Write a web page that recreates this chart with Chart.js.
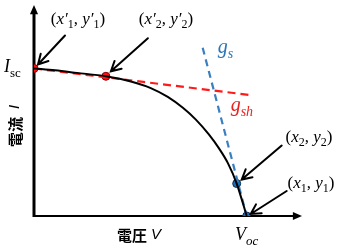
<!DOCTYPE html>
<html>
<head>
<meta charset="utf-8">
<script src="https://cdn.jsdelivr.net/npm/chart.js@4"></script>
<style>
  html, body { margin: 0; padding: 0; background: #fff; }
  #wrap { width: 340px; height: 251px; position: relative; }
</style>
</head>
<body>
<div id="wrap"><canvas id="iv"></canvas></div>
<script>
  // normalised I-V curve (V / Voc, I / Isc)
  const voltage = [0, 0.099, 0.202, 0.338, 0.451, 0.549, 0.629, 0.7, 0.761, 0.822, 0.869, 0.911, 0.953, 1.0];
  const current = [1.0, 0.987, 0.97, 0.947, 0.913, 0.867, 0.807, 0.733, 0.653, 0.553, 0.46, 0.36, 0.22, 0];

  // shunt conductance line g_sh and series conductance line g_s
  const gshX = [0, 1.014];
  const gshY = [1.0, 0.82];
  const gsX = [0.793, 1.0];
  const gsY = [1.14, 0];

  // marked points
  const redX = [0, 0.338];
  const redY = [1.0, 0.947];
  const blueX = [0.953, 1.0];
  const blueY = [0.22, 0];

  const xMax = 1.26;
  const yMax = 1.43;

  const pts = (xs, ys) => xs.map((x, i) => ({ x: x, y: ys[i] }));

  const SERIF = "'Liberation Serif', 'DejaVu Serif', serif";
  const CJK = "'Noto Sans CJK JP', sans-serif";

  // draws a run of text pieces: {t, it, sub, color}
  function rich(ctx, parts, x, y, size, align) {
    const fontOf = (p) => (p.it ? 'italic ' : '') + (p.sub ? Math.round(size * 0.7) : size) + 'px ' + SERIF;
    let w = 0;
    parts.forEach((p) => { ctx.font = fontOf(p); w += ctx.measureText(p.t).width; });
    let cx = align === 'center' ? x - w / 2 : x;
    ctx.textBaseline = 'alphabetic';
    ctx.textAlign = 'left';
    parts.forEach((p) => {
      ctx.font = fontOf(p);
      ctx.fillStyle = p.color || '#000';
      ctx.fillText(p.t, cx, y + (p.sub ? size * 0.25 : 0));
      cx += ctx.measureText(p.t).width;
    });
  }

  function arrow(ctx, x0, y0, x1, y1, head, width) {
    const a = Math.atan2(y1 - y0, x1 - x0);
    ctx.save();
    ctx.strokeStyle = '#000';
    ctx.fillStyle = '#000';
    ctx.lineWidth = width;
    ctx.beginPath();
    ctx.moveTo(x0, y0);
    ctx.lineTo(x1 - Math.cos(a) * head * 0.8, y1 - Math.sin(a) * head * 0.8);
    ctx.stroke();
    ctx.beginPath();
    ctx.moveTo(x1, y1);
    ctx.lineTo(x1 - head * Math.cos(a - 0.42), y1 - head * Math.sin(a - 0.42));
    ctx.lineTo(x1 - head * Math.cos(a + 0.42), y1 - head * Math.sin(a + 0.42));
    ctx.closePath();
    ctx.fill();
    ctx.restore();
  }

  // open "V" style arrow head used for the call-outs
  function callout(ctx, x0, y0, x1, y1) {
    const a = Math.atan2(y1 - y0, x1 - x0);
    const h = 11;
    ctx.save();
    ctx.strokeStyle = '#000';
    ctx.lineWidth = 2;
    ctx.lineCap = 'round';
    ctx.beginPath();
    ctx.moveTo(x0, y0);
    ctx.lineTo(x1, y1);
    ctx.moveTo(x1 - h * Math.cos(a - 0.5), y1 - h * Math.sin(a - 0.5));
    ctx.lineTo(x1, y1);
    ctx.lineTo(x1 - h * Math.cos(a + 0.5), y1 - h * Math.sin(a + 0.5));
    ctx.stroke();
    ctx.restore();
  }

  const decor = {
    id: 'decor',
    beforeDatasetsDraw(chart) {
      const { ctx, chartArea: ca } = chart;
      // axes
      arrow(ctx, ca.left, ca.bottom + 1, ca.left, ca.top, 10, 3);
      arrow(ctx, ca.left, ca.bottom, ca.right, ca.bottom, 10, 2);
    },
    afterDatasetsDraw(chart) {
      const { ctx, scales } = chart;
      const sx = scales.x, sy = scales.y;
      const px = (v) => sx.getPixelForValue(v);
      const py = (v) => sy.getPixelForValue(v);

      // call-outs
      const r1 = { x: px(redX[0]), y: py(redY[0]) };
      const r2 = { x: px(redX[1]), y: py(redY[1]) };
      const b2 = { x: px(blueX[0]), y: py(blueY[0]) };
      const b1 = { x: px(blueX[1]), y: py(blueY[1]) };
      callout(ctx, r1.x + 31, r1.y - 33, r1.x + 4, r1.y - 4);
      callout(ctx, r2.x + 42, r2.y - 38, r2.x + 5, r2.y - 5);
      callout(ctx, b2.x + 45, b2.y - 38, b2.x + 5, b2.y - 4);
      callout(ctx, b1.x + 40, b1.y - 25, b1.x + 4, b1.y - 2);

      rich(ctx, [{ t: '(' }, { t: 'x′', it: true }, { t: '1', sub: true }, { t: ', ' }, { t: 'y′', it: true }, { t: '1', sub: true }, { t: ')' }], r1.x + 44, 24, 17, 'center');
      rich(ctx, [{ t: '(' }, { t: 'x′', it: true }, { t: '2', sub: true }, { t: ', ' }, { t: 'y′', it: true }, { t: '2', sub: true }, { t: ')' }], r2.x + 60, 24, 17, 'center');
      rich(ctx, [{ t: '(' }, { t: 'x', it: true }, { t: '2', sub: true }, { t: ', ' }, { t: 'y', it: true }, { t: '2', sub: true }, { t: ')' }], 309, b2.y - 42, 17, 'center');
      rich(ctx, [{ t: '(' }, { t: 'x', it: true }, { t: '1', sub: true }, { t: ', ' }, { t: 'y', it: true }, { t: '1', sub: true }, { t: ')' }], 311, b1.y - 28, 17, 'center');

      rich(ctx, [{ t: 'I', it: true }, { t: 'sc', sub: true }], 4, r1.y + 4, 18, 'left');
      rich(ctx, [{ t: 'V', it: true }, { t: 'oc', it: true, sub: true }], b1.x, b1.y + 24, 18, 'center');
      rich(ctx, [{ t: 'g', it: true, color: '#2e75b6' }, { t: 's', it: true, sub: true, color: '#2e75b6' }], px(gsX[0]) + 15, py(gsY[0]) + 5, 20, 'left');
      rich(ctx, [{ t: 'g', it: true, color: '#e8231f' }, { t: 'sh', it: true, sub: true, color: '#e8231f' }], px(gshX[1]) - 19, py(gshY[1]) + 16, 20, 'left');

      // axis titles
      ctx.save();
      ctx.fillStyle = '#000';
      ctx.textBaseline = 'middle';
      ctx.textAlign = 'left';
      ctx.font = 'bold 15px ' + CJK;
      ctx.fillText('電圧', 117, 235);
      ctx.font = 'italic 15px "Liberation Sans", sans-serif';
      ctx.fillText('V', 151, 235);
      ctx.translate(15, 120);
      ctx.rotate(-Math.PI / 2);
      ctx.font = 'bold 15px ' + CJK;
      ctx.textAlign = 'left';
      ctx.fillText('電流', -27, 0);
      ctx.font = 'italic 15px "Liberation Sans", sans-serif';
      ctx.fillText('I', 11, 0);
      ctx.restore();
    }
  };

  new Chart(document.getElementById('iv'), {
    type: 'scatter',
    data: {
      datasets: [
        { data: pts(voltage, current), showLine: true, borderColor: '#000', borderWidth: 2, pointRadius: 0, cubicInterpolationMode: 'monotone' },
        { data: pts(gshX, gshY), showLine: true, borderColor: '#ff1a1a', borderWidth: 2.2, borderDash: [8, 5], pointRadius: 0 },
        { data: pts(gsX, gsY), showLine: true, borderColor: '#3a7fc0', borderWidth: 2.2, borderDash: [7, 5], pointRadius: 0 },
        { data: pts(redX, redY), pointRadius: 4, pointBackgroundColor: '#ff1010', pointBorderColor: '#8a0000', pointBorderWidth: 1 },
        { data: pts(blueX, blueY), pointRadius: 4, pointBackgroundColor: '#1f6fb4', pointBorderColor: '#0b2e52', pointBorderWidth: 1 }
      ]
    },
    options: {
      responsive: true,
      maintainAspectRatio: false,
      animation: false,
      layout: { padding: { left: 34, right: 38, top: 2, bottom: 35 } },
      plugins: { legend: { display: false }, tooltip: { enabled: false } },
      scales: {
        x: { type: 'linear', min: 0, max: xMax, display: false },
        y: { type: 'linear', min: 0, max: yMax, display: false }
      }
    },
    plugins: [decor]
  });
</script>
</body>
</html>
